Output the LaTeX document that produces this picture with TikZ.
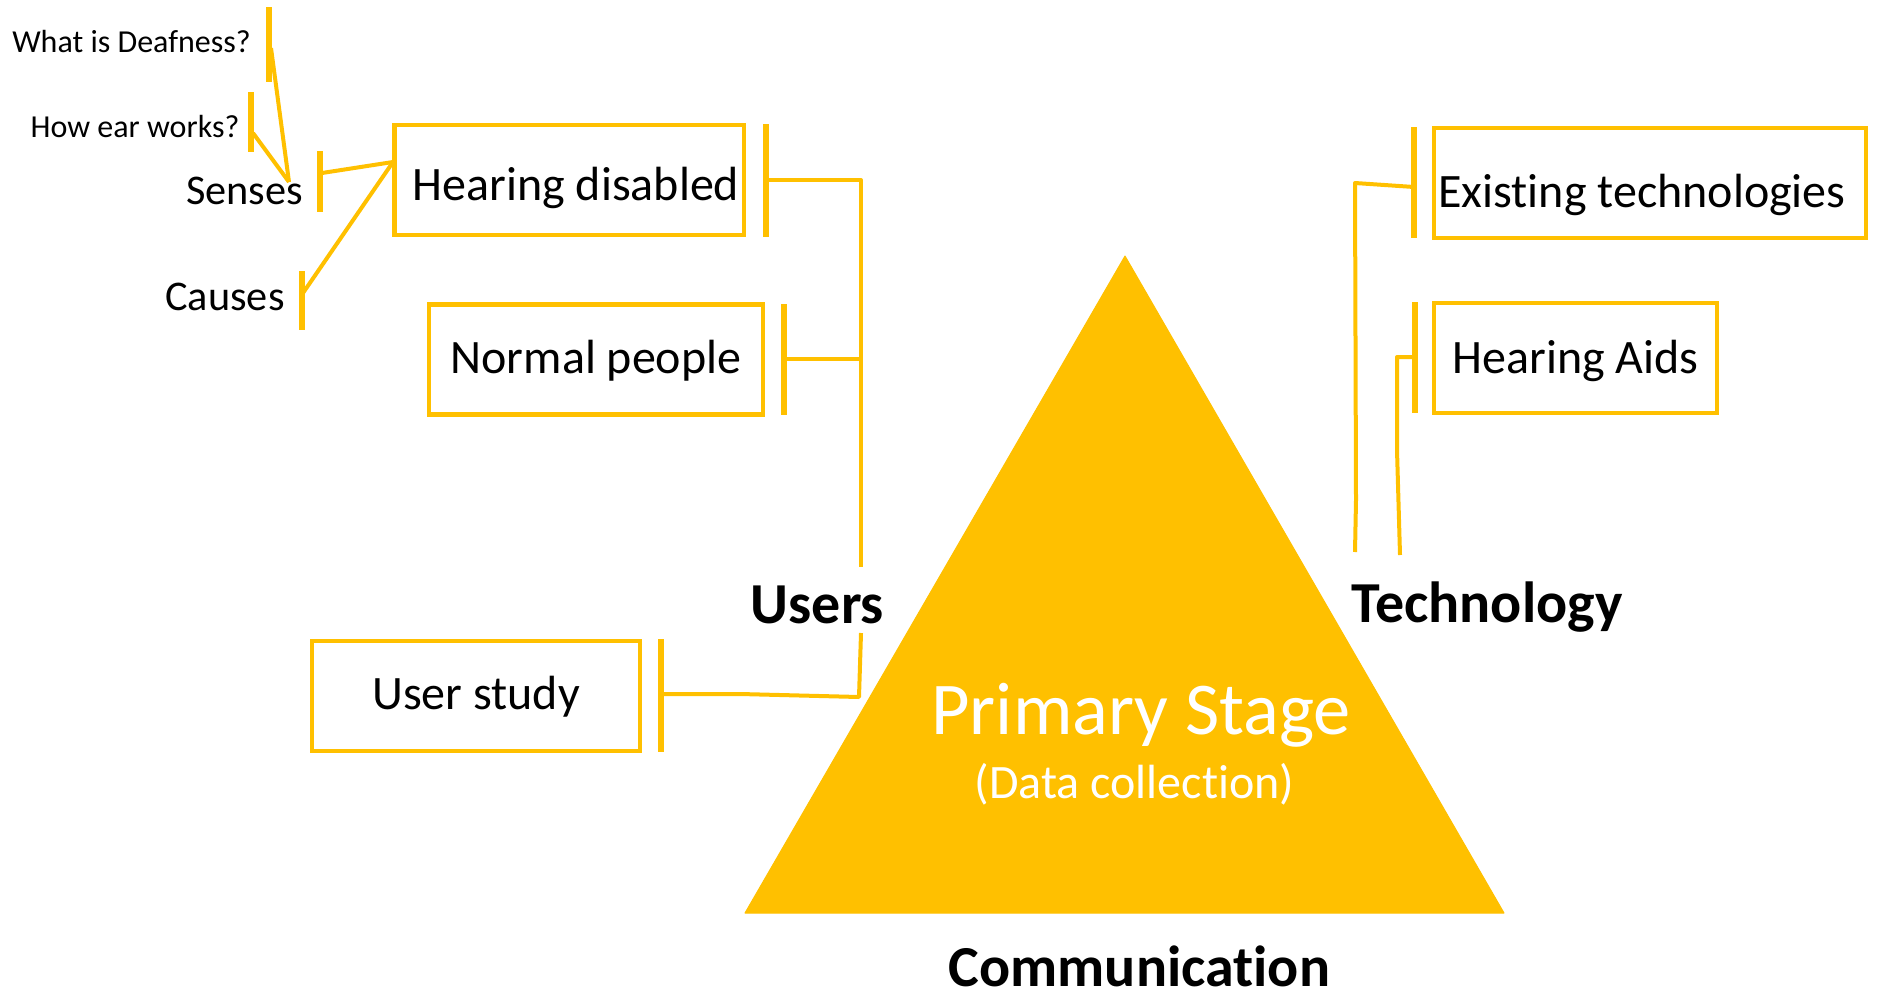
\documentclass[tikz,border=0pt]{standalone}
\usepackage{fontspec}
\setmainfont{Carlito}[Ligatures=NoCommon]
\definecolor{gold}{HTML}{FFC000}
\begin{document}
\begin{tikzpicture}[x=1pt,y=-1pt,
  conn/.style={draw=gold, line width=4pt, line join=round},
  barline/.style={draw=gold, line width=6pt},
  boxnode/.style={draw=gold, line width=4.5pt, inner sep=0pt, text depth=0pt,
    font=\fontsize{48}{57}\selectfont, minimum height=110pt},
  lbl/.style={anchor=base, inner sep=0pt},
  smalltxt/.style={lbl, font=\fontsize{32}{38}\selectfont},
  midtxt/.style={lbl, font=\fontsize{42.3}{50}\selectfont},
  boldtxt/.style={lbl, font=\fontsize{58}{68}\selectfont\bfseries},
]
\useasboundingbox (0,0) rectangle (1879,993);

% triangle
\coordinate (apex) at (1125,256);
\coordinate (bl) at (745,913);
\coordinate (br) at (1504,913);
\filldraw[gold, line width=1pt, line join=round] (apex) -- (br) -- (bl) -- cycle;
\node[lbl, text=white, font=\fontsize{74.5}{88}\selectfont] (ps) at (1141,734) {Primary Stage};
\node[lbl, text=white, font=\fontsize{48}{56}\selectfont] (dc) at (1134.5,798) {(Data collection)};

% labels
\node[boldtxt] (users) at (817.5,623) {Users};
\node[boldtxt] (tech) at (1487,622) {Technology};
\node[boldtxt] (comm) at (1139.5,986) {Communication};

% boxes
\node[boxnode, minimum width=349.5pt, text height=41pt] (hd) at (569,180) {\hspace*{14pt}Hearing disabled};
\node[boxnode, minimum width=334pt, text height=27pt] (np) at (596,359.5) {Normal people};
\node[boxnode, minimum width=328pt, text height=27pt] (us) at (476,696) {User study};
\node[boxnode, minimum width=432pt, text height=48pt] (et) at (1650,183) {Existing technologies\hspace*{16pt}};
\node[boxnode, minimum width=283pt, text height=30pt] (ha) at (1575.5,358) {Hearing Aids};

% small texts
\node[smalltxt] (wd) at (131.5,52) {What is Deafness?};
\node[smalltxt] (hew) at (135,137) {How ear works?};
\node[midtxt] (senses) at (244.5,204) {Senses};
\node[midtxt] (causes) at (225,310) {Causes};

% bars
\draw[barline] (766,124) -- (766,237);
\draw[barline] (784,304) -- (784,415);
\draw[barline] (661,639) -- (661,752);
\draw[barline] (1414,127) -- (1414,238);
\draw[barline] (1415,302) -- (1415,413);
\draw[barline] (269,7) -- (269,82);
\draw[barline] (251,92) -- (251,152);
\draw[barline] (320,151) -- (320,212);
\draw[barline] (302,271) -- (302,330);

% connector points
\coordinate (wdb) at (271,48);
\coordinate (hewb) at (253,133);
\coordinate (sensb) at (322,173);
\coordinate (causb) at (303,293);
\coordinate (sensin) at (289,182);
\coordinate (hdin) at (393,162);
\coordinate (hdb) at (766,180);
\coordinate (npb) at (784,359);
\coordinate (usb) at (661,694);
\coordinate (etb) at (1414,187);
\coordinate (hab) at (1415,357);
\coordinate (usrtop) at (861,567);
\coordinate (usrbot) at (861,633);
\coordinate (tecl) at (1355,552);
\coordinate (tecr) at (1400,555);

\draw[conn] (wdb) -- (sensin);
\draw[conn] (hewb) -- (sensin);
\draw[conn] (sensb) -- (hdin);
\draw[conn] (causb) -- (hdin);
\draw[conn] (hdb) -- (861,180) -- (usrtop);
\draw[conn] (npb) -- (861,359);
\draw[conn] (usb) -- (740,694) -- (859,697) -- (usrbot);
\draw[conn] (etb) -- (1355,183) -- (1356,500) -- (tecl);
\draw[conn] (hab) -- (1397,357) -- (1397,450) -- (tecr);
\end{tikzpicture}
\end{document}
